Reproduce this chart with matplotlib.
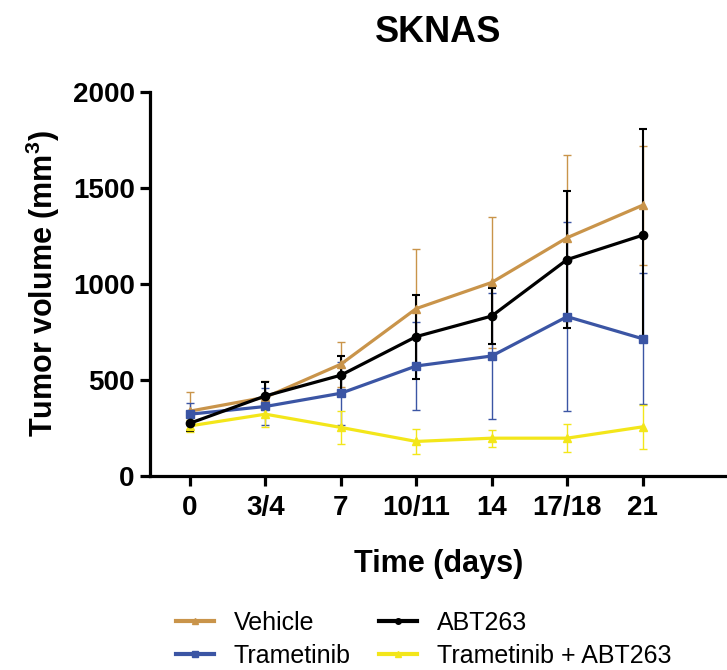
import matplotlib
matplotlib.use('Agg')
import matplotlib.pyplot as plt
from matplotlib.lines import Line2D
import numpy as np

# time points (categorical) and group means / SD
days = ['0', '3/4', '7', '10/11', '14', '17/18', '21']

vehicle = [338, 410, 582, 872, 1008, 1241, 1410]
vehicle_sd = [100, 85, 116, 312, 342, 432, 310]

trametinib = [322, 362, 431, 573, 625, 830, 715]
trametinib_sd = [57, 97, 165, 231, 326, 492, 340]

abt263 = [275, 417, 525, 726, 833, 1127, 1254]
abt263_sd = [40, 73, 98, 219, 147, 355, 552]

combo = [261, 322, 253, 180, 197, 197, 256]
combo_sd = [30, 69, 87, 65, 44, 72, 113]

plt.rcParams['font.family'] = ['Liberation Sans', 'DejaVu Sans']
plt.rcParams['mathtext.fontset'] = 'custom'
plt.rcParams['mathtext.rm'] = 'Liberation Sans'
plt.rcParams['mathtext.bf'] = 'Liberation Sans:bold'

tan = '#C9944A'
blue = '#3B55A4'
yellow = '#F3E61A'

def main():
    fig = plt.figure(figsize=(7.27, 6.7), dpi=100)
    ax = fig.add_axes([150 / 727, 1 - 476 / 670, 577 / 727, 384 / 670])

    x = np.arange(len(days))
    groups = [
        (vehicle, vehicle_sd, tan, '^', 1.0),
        (trametinib, trametinib_sd, blue, 's', 1.0),
        (combo, combo_sd, yellow, '^', 1.0),
        (abt263, abt263_sd, 'black', 'o', 1.5),
    ]
    for vals, sd, col, mk, elw in groups:
        ax.errorbar(x, vals, yerr=sd, color=col, marker=mk, markersize=6,
                    lw=2.3, elinewidth=elw, capsize=3, capthick=elw,
                    clip_on=False)

    ax.set_xlim(-0.53, 7.12)
    ax.set_ylim(0, 2000)
    ax.set_xticks(x)
    ax.set_xticklabels(days)
    ax.set_yticks([0, 500, 1000, 1500, 2000])

    for s in ['top', 'right']:
        ax.spines[s].set_visible(False)
    for s in ['left', 'bottom']:
        ax.spines[s].set_linewidth(2.3)
    ax.tick_params(direction='out', length=7, width=2.3, labelsize=20)
    ax.tick_params(axis='x', pad=7)
    ax.tick_params(axis='y', pad=4)
    for lab in ax.get_xticklabels() + ax.get_yticklabels():
        lab.set_fontweight('bold')

    ax.set_title('SKNAS', fontsize=26, fontweight='bold', pad=36)
    ax.set_xlabel('Time (days)', fontsize=22, fontweight='bold', labelpad=20)
    ax.set_ylabel(r'Tumor volume (mm$^{\mathbf{3}}$)', fontsize=22,
                  fontweight='bold', labelpad=8)

    handles = [
        Line2D([], [], color=tan, marker='^', markersize=4, lw=3),
        Line2D([], [], color=blue, marker='s', markersize=4, lw=3),
        Line2D([], [], color='black', marker='o', markersize=4, lw=3),
        Line2D([], [], color=yellow, marker='^', markersize=4, lw=3),
    ]
    labels = ['Vehicle', 'Trametinib', 'ABT263', 'Trametinib + ABT263']
    fig.legend(handles, labels, ncol=2, frameon=False, fontsize=18,
               loc='center', bbox_to_anchor=(0.583, 0.046),
               handlelength=1.5, handletextpad=0.8, columnspacing=1.15,
               labelspacing=0.35)

    fig.savefig('out.png', dpi=100)

if __name__ == "__main__":
    main()
